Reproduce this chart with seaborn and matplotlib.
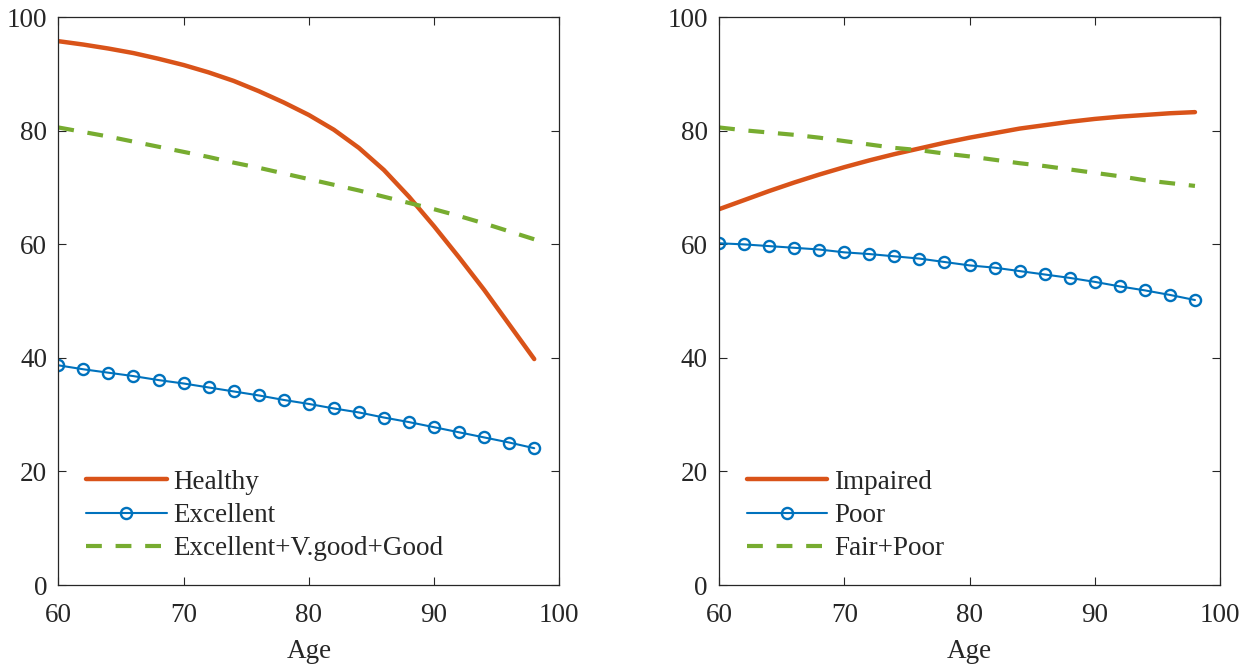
import numpy as np
import pandas as pd
import matplotlib
matplotlib.use("Agg")
import matplotlib.pyplot as plt
import seaborn as sns

sns.set_style("ticks")
plt.rcParams['font.family'] = ['Liberation Serif', 'DejaVu Serif']

# === data ===
ages = list(range(60, 100, 2))

healthy = [95.8, 95.2, 94.5, 93.7, 92.7, 91.6, 90.3, 88.8, 87.0, 85.0,
           82.8, 80.2, 77.0, 73.1, 68.4, 63.2, 57.7, 52.0, 45.9, 39.8]
excellent = [38.7, 38.0, 37.4, 36.8, 36.1, 35.5, 34.8, 34.1, 33.4, 32.6,
             31.9, 31.1, 30.4, 29.5, 28.7, 27.8, 26.9, 26.0, 25.1, 24.1]
exc_vg_good = [80.6, 79.8, 79.0, 78.1, 77.2, 76.3, 75.4, 74.4, 73.5, 72.5,
               71.5, 70.5, 69.5, 68.4, 67.3, 66.2, 65.0, 63.7, 62.3, 60.9]

impaired = [66.2, 67.8, 69.4, 70.9, 72.3, 73.6, 74.8, 75.9, 76.9, 77.9,
            78.8, 79.6, 80.4, 81.0, 81.6, 82.1, 82.5, 82.8, 83.1, 83.3]
poor = [60.2, 60.0, 59.7, 59.4, 59.1, 58.6, 58.3, 57.9, 57.5, 56.9,
        56.3, 55.9, 55.3, 54.7, 54.1, 53.4, 52.6, 51.9, 51.1, 50.2]
fair_poor = [80.6, 80.1, 79.7, 79.3, 78.8, 78.2, 77.6, 77.0, 76.6, 76.0,
             75.5, 74.9, 74.3, 73.8, 73.2, 72.6, 72.0, 71.3, 70.8, 70.3]

panels = [
    (['Healthy', 'Excellent', 'Excellent+V.good+Good'], [healthy, excellent, exc_vg_good]),
    (['Impaired', 'Poor', 'Fair+Poor'], [impaired, poor, fair_poor]),
]

RED, BLUE, GREEN = '#D95319', '#0072BD', '#77AC30'
FS = 19.5

fig = plt.figure(figsize=(12.54, 6.66), dpi=100)
ax_l = fig.add_axes([0.0465, 0.1216, 0.3995, 0.8524])
ax_r = fig.add_axes([0.5734, 0.1216, 0.3995, 0.8524])

for ax, (names, series) in zip([ax_l, ax_r], panels):
    df = pd.DataFrame({'Age': ages, names[0]: series[0], names[1]: series[1], names[2]: series[2]})
    sns.lineplot(data=df, x='Age', y=names[0], ax=ax, color=RED, linewidth=3.2,
                 solid_joinstyle='round', label=names[0])
    sns.lineplot(data=df, x='Age', y=names[1], ax=ax, color=BLUE, linewidth=1.5,
                 marker='o', markersize=8, markerfacecolor='none', markeredgecolor=BLUE,
                 markeredgewidth=1.7, label=names[1])
    sns.lineplot(data=df, x='Age', y=names[2], ax=ax, color=GREEN, linewidth=3,
                 linestyle=(0, (3.8, 3.3)), label=names[2])

    ax.set_xlim(60, 100)
    ax.set_ylim(0, 100)
    ax.set_xticks([60, 70, 80, 90, 100])
    ax.set_yticks([0, 20, 40, 60, 80, 100])
    ax.set_xlabel('Age', fontsize=FS, labelpad=8, color='#262626')
    ax.set_ylabel('')
    ax.tick_params(direction='in', length=6, width=0.8, top=True, right=True,
                   labelsize=FS, colors='#262626')
    ax.tick_params(axis='x', pad=13)
    ax.tick_params(axis='y', pad=8)
    for sp in ax.spines.values():
        sp.set_visible(True)
        sp.set_linewidth(0.9)
        sp.set_color('#262626')
    ax.legend(loc='lower left', bbox_to_anchor=(0.055, 0.042), frameon=False,
              fontsize=FS, handlelength=2.98, handletextpad=0.24, labelspacing=0.3,
              borderaxespad=0, borderpad=0)

fig.savefig('out.png', dpi=100)
